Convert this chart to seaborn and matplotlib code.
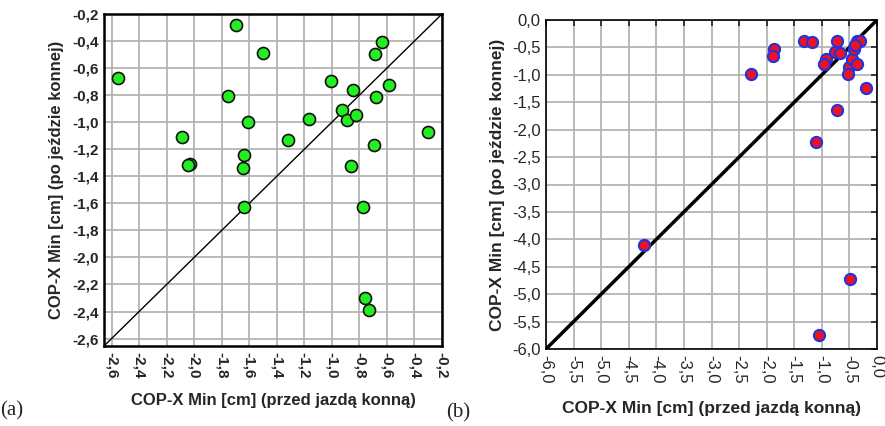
import matplotlib
matplotlib.use("Agg")
import matplotlib.pyplot as plt
import seaborn as sns
import pandas as pd
from matplotlib.ticker import FixedLocator, FuncFormatter

# ---- data: panel (a)
a_before = [-2.552, -1.696, -1.497, -1.756, -1.606, -2.091, -2.031, -2.045, -1.638, -1.647,
            -1.638, -1.316, -1.163, -1.005, -0.850, -0.923, -0.891, -0.826, -0.862, -0.692,
            -0.777, -0.678, -0.685, -0.636, -0.585, -0.305, -0.758, -0.731]
a_after = [-0.673, -0.283, -0.486, -0.803, -0.996, -1.113, -1.308, -1.320, -1.240, -1.338,
           -1.626, -1.133, -0.979, -0.698, -0.759, -0.911, -0.986, -0.947, -1.321, -1.169,
           -1.626, -0.815, -0.497, -0.405, -0.722, -1.072, -2.297, -2.390]
a_ticks = [-2.6, -2.4, -2.2, -2.0, -1.8, -1.6, -1.4, -1.2, -1.0, -0.8, -0.6, -0.4, -0.2]

# ---- data: panel (b)
b_before = [-2.28, -1.87, -1.89, -1.32, -1.17, -0.73, -0.76, -0.67, -0.93, -0.96,
            -0.51, -0.52, -0.45, -0.37, -0.42, -0.37, -0.31, -0.40, -0.20, -0.72,
            -1.10, -4.22, -0.49, -1.06]
b_after = [-0.99, -0.53, -0.66, -0.38, -0.41, -0.38, -0.59, -0.61, -0.72, -0.80,
           -0.85, -0.99, -0.72, -0.81, -0.53, -0.39, -0.38, -0.46, -1.24, -1.65,
           -2.22, -4.10, -4.72, -5.75]
b_ticks = [-6.0, -5.5, -5.0, -4.5, -4.0, -3.5, -3.0, -2.5, -2.0, -1.5, -1.0, -0.5, 0.0]

xlabel = "COP-X Min [cm] (przed jazdą konną)"
ylabel = "COP-X Min [cm] (po jeździe konnej)"

sns.set_style("white")
plt.rcParams['font.family'] = ['Liberation Sans', 'DejaVu Sans']

W, H = 885, 426
fig = plt.figure(figsize=(W / 100, H / 100), dpi=100)

def fmt(v, pos):
    return f"{v:.1f}".replace(".", ",")

def style(ax, ticks, lims, bold_ticks, spine_w, line_w, tick_fs, lab_fs, xpad, ypad, inward):
    ax.set_xlim(*lims)
    ax.set_ylim(*lims)
    ax.xaxis.set_major_locator(FixedLocator(ticks))
    ax.yaxis.set_major_locator(FixedLocator(ticks))
    ax.xaxis.set_major_formatter(FuncFormatter(fmt))
    ax.yaxis.set_major_formatter(FuncFormatter(fmt))
    ax.grid(True, color="#b4b4b4", linewidth=1.3)
    ax.set_axisbelow(True)
    for s in ax.spines.values():
        s.set_color("black")
        s.set_linewidth(spine_w)
    w = "bold" if bold_ticks else "normal"
    if inward:
        ax.tick_params(axis="both", direction="in", length=4, width=1.2, color="#222222",
                       top=True, right=True, pad=4, labelsize=tick_fs)
    else:
        ax.tick_params(axis="both", length=0, pad=4, labelsize=tick_fs)
    for lab in ax.get_xticklabels():
        lab.set_rotation(270)
        lab.set_fontweight(w)
        lab.set_va("top")
        lab.set_ha("center")
    for lab in ax.get_yticklabels():
        lab.set_fontweight(w)
    ax.set_xlabel(xlabel, fontsize=lab_fs, fontweight="bold", labelpad=xpad)
    ax.set_ylabel(ylabel, fontsize=lab_fs, fontweight="bold", labelpad=ypad)
    ax.axline((lims[0], lims[0]), slope=1, color="black", linewidth=line_w, zorder=2)

# panel (a)
axa = fig.add_axes([104 / W, 1 - 346 / H, 338 / W, 332 / H])
dfa = pd.DataFrame({"before": a_before, "after": a_after})
sns.scatterplot(data=dfa, x="before", y="after", ax=axa, s=75, color="#22ee22",
                edgecolor="#111111", linewidth=1.2, zorder=3)
style(axa, a_ticks, (-2.655, -0.2), True, 1.8, 1.0, 11, 12, 11, 6, False)

# panel (b)
axb = fig.add_axes([546 / W, 1 - 349 / H, 331 / W, 329 / H])
dfb = pd.DataFrame({"before": b_before, "after": b_after})
sns.scatterplot(data=dfb, x="before", y="after", ax=axb, s=65, color="#ee1122",
                edgecolor="#2233dd", linewidth=1.5, zorder=3)
style(axb, b_ticks, (-6.0, 0.0), False, 1.2, 2.5, 12, 12.5, 13, 5, True)

fig.text(0 / W, 1 - 411 / H, "(a)", fontsize=15, family="Liberation Serif", va="center")
fig.text(446 / W, 1 - 413 / H, "(b)", fontsize=15, family="Liberation Serif", va="center")

fig.savefig("out.png", dpi=100)
